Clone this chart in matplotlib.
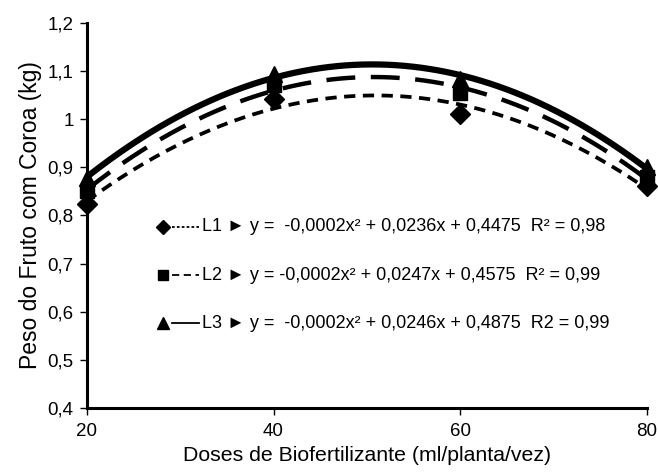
import numpy as np
import matplotlib
matplotlib.use("Agg")
import matplotlib.pyplot as plt
from matplotlib.ticker import FuncFormatter

plt.rcParams["font.family"] = ["Liberation Sans", "DejaVu Sans"]

# ====================== DATA ======================
doses = [20, 40, 60, 80]
l1 = [0.823, 1.042, 1.01, 0.862]
l2 = [0.85, 1.07, 1.055, 0.879]
l3 = [0.877, 1.094, 1.083, 0.90]

labels = [
    "L1 \u25BA y =  -0,0002x\u00b2 + 0,0236x + 0,4475  R\u00b2 = 0,98",
    "L2 \u25BA y = -0,0002x\u00b2 + 0,0247x + 0,4575  R\u00b2 = 0,99",
    "L3 \u25BA y =  -0,0002x\u00b2 + 0,0246x + 0,4875  R2 = 0,99",
]


def comma_fmt(v, pos):
    if abs(v - round(v)) < 1e-9:
        return f"{int(round(v))}"
    return f"{v:.1f}".replace(".", ",")


# ====================== PLOT ======================
fig = plt.figure(figsize=(6.58, 4.75), dpi=100, facecolor="white")
ax = fig.add_axes([0.132, 0.141, 0.851, 0.811])

styles = [
    dict(marker="D", ms=10, ls=(0, (3, 2)), lw=2.7),
    dict(marker="s", ms=10, ls=(0, (6.5, 3.5)), lw=3.2),
    dict(marker="^", ms=11, ls="-", lw=4.5),
]

# quadratic trend lines, as in the spreadsheet
xx = np.linspace(20, 80, 200)
for ys, st in zip([l1, l2, l3], styles):
    coef = np.polyfit(doses, ys, 2)
    ax.plot(xx, np.polyval(coef, xx), color="black", ls=st["ls"], lw=st["lw"],
            solid_capstyle="butt", dash_capstyle="butt", zorder=2)
    ax.plot(doses, ys, color="black", marker=st["marker"], ms=st["ms"], ls="none",
            clip_on=False, zorder=3)

# legend rows drawn by hand (marker, line sample, text)
row_y = [0.47, 0.345, 0.22]
leg_ls = [(0, (1.5, 1.2)), (0, (4, 2.5)), "-"]
for yr, st, ls, lab in zip(row_y, styles, leg_ls, labels):
    ax.plot([0.136], [yr], transform=ax.transAxes, color="black",
            marker=st["marker"], ms=st["ms"] - 2.5, ls="none")
    ax.plot([0.152, 0.2], [yr, yr], transform=ax.transAxes, color="black",
            ls=ls, lw=1.3)
    ax.text(0.206, yr, lab, transform=ax.transAxes, fontsize=13,
            ha="left", va="center")

ax.set_xlim(20, 80)
ax.set_ylim(0.4, 1.2)
ax.set_xticks([20, 40, 60, 80])
ax.set_yticks(np.arange(0.4, 1.21, 0.1))
ax.yaxis.set_major_formatter(FuncFormatter(comma_fmt))

for s in ["top", "right"]:
    ax.spines[s].set_visible(False)
for s in ["left", "bottom"]:
    ax.spines[s].set_linewidth(2.2)

ax.tick_params(direction="out", length=5, width=1, labelsize=13.5, colors="black")
ax.tick_params(axis="y", pad=4.5)
ax.tick_params(axis="x", pad=6)
ax.set_xlabel("Doses de Biofertilizante (ml/planta/vez)", fontsize=15.3, labelpad=4)
ax.set_ylabel("Peso do Fruto com Coroa (kg)", fontsize=16.5, labelpad=4)

plt.savefig("out.png", dpi=100)
